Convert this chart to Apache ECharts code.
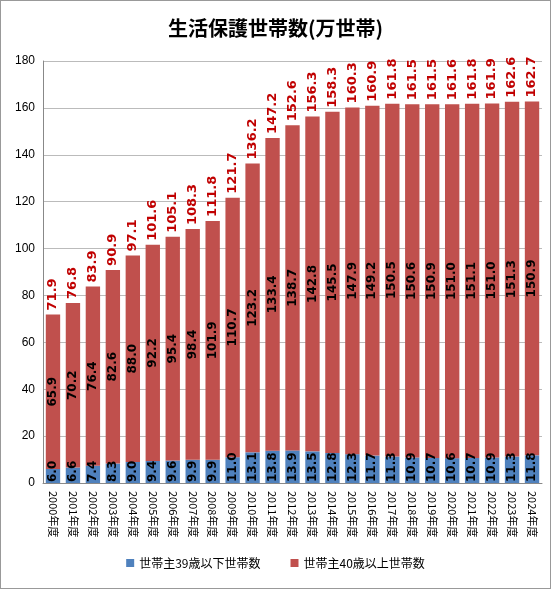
<!DOCTYPE html>
<html><head><meta charset="utf-8">
<script src="https://cdn.jsdelivr.net/npm/echarts@6/dist/echarts.min.js"></script>
<style>html,body{margin:0;padding:0;background:#fff}#c{width:551px;height:589px;box-sizing:border-box;border:1px solid #999}</style>
</head><body><div id="c"></div>
<script>
const categories = ['2000年度','2001年度','2002年度','2003年度','2004年度','2005年度','2006年度','2007年度','2008年度','2009年度','2010年度','2011年度','2012年度','2013年度','2014年度','2015年度','2016年度','2017年度','2018年度','2019年度','2020年度','2021年度','2022年度','2023年度','2024年度'];
const under39 = [6.0,6.6,7.4,8.3,9.0,9.4,9.6,9.9,9.9,11.0,13.1,13.8,13.9,13.5,12.8,12.3,11.7,11.3,10.9,10.7,10.6,10.7,10.9,11.3,11.8];
const over40 = [65.9,70.2,76.4,82.6,88.0,92.2,95.4,98.4,101.9,110.7,123.2,133.4,138.7,142.8,145.5,147.9,149.2,150.5,150.6,150.9,151.0,151.1,151.0,151.3,150.9];
const totals = [71.9,76.8,83.9,90.9,97.1,101.6,105.1,108.3,111.8,121.7,136.2,147.2,152.6,156.3,158.3,160.3,160.9,161.8,161.5,161.5,161.6,161.8,161.9,162.6,162.7];
const chart = echarts.init(document.getElementById('c'));
const lab = {show:true, rotate:90, color:'#000', fontWeight:'bold', fontSize:12, fontFamily:'DejaVu Sans', formatter:p=>p.value.toFixed(1)};
chart.setOption({
  animation:false,
  title:{text:'生活保護世帯数(万世帯)', left:'center', top:12, textStyle:{fontSize:20, fontWeight:'bold', color:'#000', fontFamily:'Noto Sans CJK JP'}},
  legend:{data:['世帯主39歳以下世帯数','世帯主40歳以上世帯数'], bottom:14, itemWidth:8, itemHeight:8, itemGap:30, icon:'rect', textStyle:{fontSize:12, color:'#000', fontFamily:'Noto Sans CJK JP'}},
  grid:{left:42, right:8, top:60, bottom:105},
  xAxis:{type:'category', data:categories, axisTick:{show:false}, axisLine:{lineStyle:{color:'#888'}},
    axisLabel:{rotate:-90, interval:0, color:'#000', fontSize:11, fontFamily:'Noto Sans CJK JP'}},
  yAxis:{type:'value', min:0, max:180, interval:20, axisLine:{show:true, lineStyle:{color:'#888'}},
    splitLine:{lineStyle:{color:'#bbb'}}, axisLabel:{color:'#000', fontSize:12}},
  series:[
    {name:'世帯主39歳以下世帯数', type:'bar', stack:'a', data:under39, barWidth:'72%', itemStyle:{color:'#4f81bd'},
      label:Object.assign({}, lab, {position:'insideBottom', align:'left', verticalAlign:'middle', distance:1})},
    {name:'世帯主40歳以上世帯数', type:'bar', stack:'a', data:over40, itemStyle:{color:'#c0504d'},
      label:Object.assign({}, lab, {position:'inside'})},
    {name:'total', type:'bar', stack:'a', data:totals.map(()=>0), itemStyle:{color:'transparent'},
      label:{show:true, position:'top', rotate:90, align:'left', verticalAlign:'middle', distance:4, color:'#c00000', fontWeight:'bold', fontSize:13, fontFamily:'DejaVu Sans', formatter:p=>totals[p.dataIndex].toFixed(1)}}
  ]
});
</script></body></html>
